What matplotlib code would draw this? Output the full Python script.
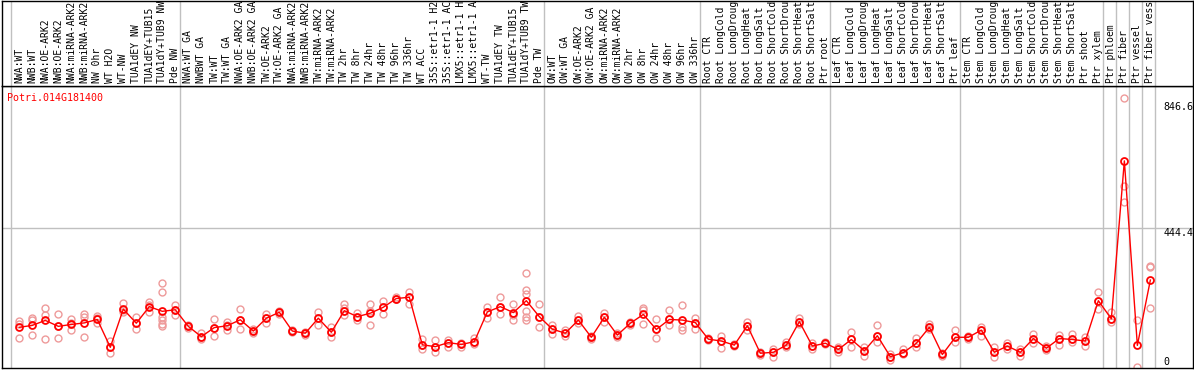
import numpy as np
import matplotlib
matplotlib.use('Agg')
import matplotlib.pyplot as plt

gene = 'Potri.014G181400'

samples = ['NWA:WT', 'NWB:WT', 'NWA:OE-ARK2', 'NWB:OE-ARK2', 'NWA:miRNA-ARK2', 'NWB:miRNA-ARK2',
           'NW 0hr', 'WT H2O', 'WT-NW', 'TUA1dEY NW', 'TUA1dEY+TUB15', 'TUA1dY+TUB9 NW', 'Pde NW',
           'NWA:WT GA', 'NWBWT GA', 'TW:WT', 'TW:WT GA', 'NWA:OE-ARK2 GA', 'NWB:OE-ARK2 GA',
           'TW:OE-ARK2', 'TW:OE-ARK2 GA', 'NWA:miRNA-ARK2', 'NWB:miRNA-ARK2', 'TW:miRNA-ARK2',
           'TW:miRNA-ARK2', 'TW 2hr', 'TW 8hr', 'TW 24hr', 'TW 48hr', 'TW 96hr', 'TW 336hr',
           'WT ACC', '35S::etr1-1 H2', '35S::etr1-1 AC', 'LMX5::etr1-1 H', 'LMX5::etr1-1 A',
           'WT-TW', 'TUA1dEY TW', 'TUA1dEY+TUB15', 'TUA1dY+TUB9 TW', 'Pde TW',
           'OW:WT', 'OW:WT GA', 'OW:OE-ARK2', 'OW:OE-ARK2 GA', 'OW:miRNA-ARK2', 'OW:miRNA-ARK2',
           'OW 2hr', 'OW 8hr', 'OW 24hr', 'OW 48hr', 'OW 96hr', 'OW 336hr',
           'Root CTR', 'Root LongCold', 'Root LongDroug', 'Root LongHeat', 'Root LongSalt',
           'Root ShortCold', 'Root ShortDrou', 'Root ShortHeat', 'Root ShortSalt', 'Ptr root',
           'Leaf CTR', 'Leaf LongCold', 'Leaf LongDroug', 'Leaf LongHeat', 'Leaf LongSalt',
           'Leaf ShortCold', 'Leaf ShortDrou', 'Leaf ShortHeat', 'Leaf ShortSalt', 'Ptr leaf',
           'Stem CTR', 'Stem LongCold', 'Stem LongDroug', 'Stem LongHeat', 'Stem LongSalt',
           'Stem ShortCold', 'Stem ShortDrou', 'Stem ShortHeat', 'Stem ShortSalt', 'Ptr shoot',
           'Ptr xylem', 'Ptr phloem', 'Ptr fiber', 'Ptr vessel', 'Ptr fiber vess']

# mean expression per sample
means = [127, 133, 149, 130, 136, 141, 152, 63, 185, 140, 193, 178, 183,
         130, 97, 126, 132, 151, 115, 156, 175, 115, 108, 156, 111, 180, 161, 172, 191, 219, 223,
         71, 65, 78, 72, 81, 176, 193, 174, 212, 161,
         121, 108, 150, 95, 159, 102, 140, 168, 120, 152, 150, 142,
         89, 83, 70, 132, 44, 47, 70, 145, 67, 76,
         56, 88, 52, 100, 33, 46, 76, 127, 40, 95,
         95, 118, 47, 67, 47, 91, 60, 91, 88, 83,
         212, 154, 659, 69, 278]

# replicate values per sample
reps = [[148, 137, 92], [156, 150, 101], [189, 166, 89], [168, 131, 92], [152, 142, 118],
        [168, 161, 95], [164, 156, 142], [83, 63, 46], [206, 182, 177], [161, 140, 120],
        [209, 198, 177], [270, 241, 161, 150, 137, 131], [198, 182, 166],
        [135, 130, 124], [108, 97, 88], [152, 126, 100], [145, 134, 118], [184, 151, 120],
        [120, 115, 110], [168, 156, 142], [180, 175, 169], [118, 115, 112], [113, 108, 102],
        [177, 156, 133], [127, 111, 95], [200, 188, 166], [172, 161, 150], [200, 180, 134],
        [212, 191, 169], [223, 219, 216], [241, 223, 203],
        [88, 71, 56], [86, 65, 49], [86, 78, 65], [78, 72, 65], [92, 81, 73],
        [191, 176, 156], [225, 193, 169], [201, 166, 150], [299, 246, 233, 180, 161, 150],
        [200, 161, 127],
        [134, 121, 105], [118, 108, 99], [164, 150, 140], [99, 95, 90], [174, 159, 145],
        [108, 102, 97], [145, 140, 134], [190, 182, 137], [152, 120, 94], [182, 152, 133],
        [198, 129, 118], [158, 142, 120],
        [93, 89, 86], [100, 83, 62], [73, 70, 67], [145, 132, 118], [48, 44, 39],
        [59, 47, 33], [79, 70, 63], [158, 145, 137], [76, 67, 57], [79, 76, 72],
        [63, 56, 49], [112, 88, 65], [65, 52, 35], [134, 100, 79], [41, 33, 22],
        [56, 46, 41], [92, 76, 65], [139, 127, 120], [46, 40, 35], [118, 95, 79],
        [99, 95, 91], [129, 118, 99], [65, 47, 31], [76, 67, 56], [56, 47, 35],
        [105, 91, 78], [67, 60, 54], [102, 91, 70], [105, 88, 81], [95, 83, 68],
        [240, 212, 187], [176, 154, 145], [859, 579, 528], [150, 0], [323, 319, 190]]

# last sample of each group (grey separators)
group_ends = [-1, 12, 40, 52, 62, 72, 83, 84, 85, 86, 87]

ytick_vals = [0, 444.4, 846.6]

W, H = 1194, 370
fig = plt.figure(figsize=(W / 100, H / 100), dpi=100)
font = 'DejaVu Sans Mono'
grey = '#c0c0c0'

x = np.arange(len(samples))
xlim = (-1.331, 90.28)

ax = fig.add_axes([2 / W, 2 / H, 1191 / W, 282 / H])
top = fig.add_axes([2 / W, 284 / H, 1191 / W, 85.5 / H])

for a in (ax, top):
    a.set_xlim(*xlim)
    a.set_xticks([])
    a.set_yticks([])
    for s in a.spines.values():
        s.set_color('black')
        s.set_linewidth(1)
    for g in group_ends:
        a.axvline(g + 0.38, color=grey, lw=1, zorder=0)

ax.set_ylim(-3.2, 898.4)
ax.axhline(444.4, color=grey, lw=1, zorder=0)

for i, r in enumerate(reps):
    ax.plot([i] * len(r), r, 'o', ms=5, mfc='none', mec='#ee9a9a', mew=1, zorder=2)
ax.plot(x, means, '-', color='red', lw=1, zorder=3)
ax.plot(x, means, 'o', ms=5, mfc='none', mec='red', mew=1.3, zorder=4)

ax.text(5 / 1191, 0.957, gene, transform=ax.transAxes, color='red',
        fontsize=7.2, family=font, va='center', ha='left')
for v in ytick_vals:
    ax.text(88.0, v, f'{v:g}', fontsize=7.2, family=font, ha='left',
            va='bottom' if v == 0 else 'top')

top.set_ylim(0, 1)
for i, s in enumerate(samples):
    top.text(i, 0.035, s, rotation=90, ha='center', va='bottom',
             fontsize=7, family=font)

fig.savefig('out.png', dpi=100)
